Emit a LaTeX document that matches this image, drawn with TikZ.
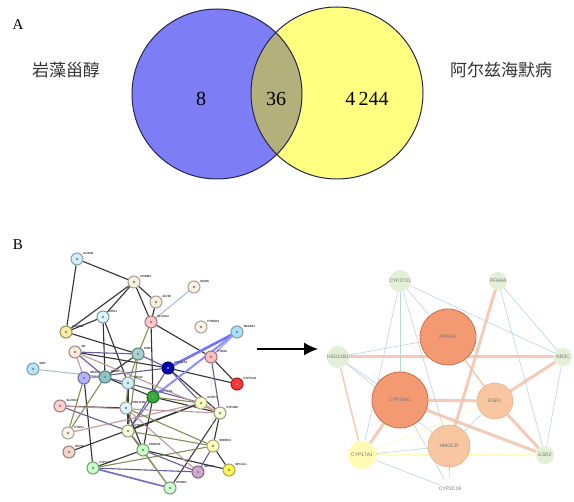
\documentclass[tikz,border=0pt]{standalone}
\usepackage{fontspec}
\setmainfont{Liberation Serif}
\newfontfamily\cjk{Noto Sans CJK SC}
\newfontfamily\lsans{Liberation Sans}
\usetikzlibrary{arrows.meta,backgrounds}
\definecolor{vblue}{HTML}{7D7DF6}
\definecolor{vyel}{HTML}{FFFF80}
\definecolor{volive}{HTML}{B3B07C}
\definecolor{vline}{HTML}{26264A}
\definecolor{ekb}{HTML}{333333}
\definecolor{ekp}{HTML}{6A5A9A}
\definecolor{ekr}{HTML}{C09A9A}
\definecolor{eko}{HTML}{7F8F58}
\definecolor{ekg}{HTML}{A0BCC8}
\definecolor{salm}{HTML}{F2C2AC}
\definecolor{thinb}{HTML}{BCD4E4}
\definecolor{gl}{HTML}{E4EFD8}
\definecolor{bigf}{HTML}{F39A72}
\definecolor{bigd}{HTML}{C8704C}
\definecolor{midf}{HTML}{F8C6A0}
\definecolor{midd}{HTML}{E6A882}
\tikzset{
  gn/.style={circle,minimum size=12pt,inner sep=0pt,line width=1pt,
    path picture={\fill[black!45] (path picture bounding box.center) circle (1.4pt);}},
  lbl/.style={font=\lsans\bfseries\fontsize{3}{3}\selectfont,inner sep=0.5pt,text=black!80},
  eb/.style={ekb,line width=1.1pt},
  ep/.style={ekp,line width=1.1pt},
  er/.style={ekr,line width=1.1pt},
  eo/.style={eko,line width=1.1pt},
  eg/.style={ekg,line width=0.9pt},
  rn/.style={circle,inner sep=0pt,font=\lsans\fontsize{5}{5}\selectfont,text=black!55},
  smallg/.style={rn,fill=gl,minimum size=18pt},
  bign/.style={rn,fill=bigf,draw=bigd,line width=0.8pt,minimum size=56pt},
  midn/.style={rn,fill=midf,draw=midd,line width=0.5pt},
  sth/.style={salm,line width=3pt,opacity=0.85},
  stn/.style={salm,line width=1.5pt,opacity=0.85},
  tb/.style={thinb,line width=0.6pt},
}
\newcommand{\gnd}[5]{\colorlet{nfc}{#4}\colorlet{ndc}{nfc!60!black}%
  \node[gn,fill=nfc,draw=ndc] (#1) at (#2,#3) {};
  \node[lbl,anchor=south west] at ([xshift=1pt,yshift=-1pt]#1.north east) {#5};}
\begin{document}
\begin{tikzpicture}[x=1pt,y=-1pt]
\useasboundingbox (0,0) rectangle (574,502);
\begin{pgfonlayer}{background}
\fill[white] (0,0) rectangle (574,502);
\end{pgfonlayer}
% ---------- A: Venn ----------
\node[font=\fontsize{15}{15}\selectfont] (la) at (18,25) {A};
\coordinate (cb) at (217,94);
\coordinate (cy) at (337,93);
\fill[vblue] (cb) circle (85);
\fill[vyel] (cy) circle (86);
\begin{scope}
  \clip (cb) circle (85);
  \fill[volive] (cy) circle (86);
\end{scope}
\draw[vline,line width=1pt] (cb) circle (85);
\draw[vline,line width=1pt] (cy) circle (86);
\node[font=\cjk\fontsize{17}{17}\selectfont,text=black!80] (t1) at (66,70) {岩藻甾醇};
\node[font=\cjk\fontsize{17}{17}\selectfont,text=black!80] (t2) at (501,70) {阿尔兹海默病};
\node[font=\fontsize{20}{20}\selectfont] (n8) at (201,99) {8};
\node[font=\fontsize{20}{20}\selectfont] (n36) at (276,99) {36};
\node[font=\fontsize{20}{20}\selectfont] (n4244) at (367,99) {4\,244};
% ---------- B ----------
\node[font=\fontsize{15}{15}\selectfont] (lb) at (18,245) {B};
% left network nodes
\gnd{a1}{77}{259}{cyan!20}{GUSH1}
\gnd{a2}{134}{282}{yellow!25!brown!15!white}{CHRM2}
\gnd{a3}{194}{287}{yellow!20!brown!12!white}{NQRA}
\gnd{a4}{156}{302}{yellow!25!brown!18!white}{ACHE}
\gnd{a5}{103}{317}{blue!15!cyan!15!white}{CES1}
\gnd{a6}{151}{322}{red!22!white}{SLC6A4}
\gnd{a7}{66}{332}{brown!35!yellow!40!white}{SLC6A2}
\gnd{a8}{201}{327}{yellow!20!brown!12!white}{PTGER2}
\gnd{a9}{237}{332}{cyan!35!white}{TBXAS1}
\gnd{a10}{75}{352}{red!20!orange!15!white}{AR}
\gnd{a11}{138}{354}{teal!35!white}{ESR1}
\gnd{a12}{211}{357}{red!25!white}{PTGS2}
\gnd{a13}{33}{369}{cyan!30!white}{SHH}
\gnd{a14}{168}{368}{blue!70!black}{CYP11A1}
\gnd{a15}{237}{384}{red!80!white}{CYP51A1}
\gnd{a16}{84}{378}{blue!30!white}{NR3C1}
\gnd{a17}{105}{377}{teal!45!white}{ESR2}
\gnd{a18}{128}{383}{cyan!18!white}{NR1I2}
\gnd{a19}{153}{397}{green!60!black!80}{CYP17A1}
\gnd{a20}{201}{403}{yellow!25!white}{GSTP1}
\gnd{a21}{220}{413}{green!20!yellow!15!white}{CYP2B6}
\gnd{a22}{60}{406}{red!18!white}{SLC6A3}
\gnd{a23}{126}{408}{cyan!12!white}{HSD11B1}
\gnd{a24}{128}{431}{green!15!yellow!15!white}{CYP2C19}
\gnd{a25}{68}{433}{yellow!20!brown!12!white}{PTGS1}
\gnd{a26}{69}{452}{red!35!brown!25!white}{BCHE}
\gnd{a27}{143}{450}{green!22!white}{HMGCR}
\gnd{a28}{213}{446}{yellow!30!white}{SREBF2}
\gnd{a29}{229}{470}{yellow!70!white}{NPC1L1}
\gnd{a30}{93}{468}{green!22!white}{CYP3A4}
\gnd{a31}{198}{472}{violet!35!white}{NR1H3}
\gnd{a32}{170}{488}{green!18!white}{PPARG}
\begin{pgfonlayer}{background}
\foreach \u/\v in {a1/a2,a1/a7,a2/a4,a2/a6,a2/a7,a2/a5,a4/a6,a5/a7,a6/a12,a7/a11,a10/a14,a11/a17,a14/a21,a14/a15,a17/a19,a19/a27,a20/a24,a21/a28,a24/a27,a27/a29,a28/a29,a30/a27,a22/a23,a23/a27,a16/a30,a19/a21,a12/a15,a5/a18,a18/a24,a21/a32,a26/a20,a5/a17,a6/a19}
  \draw[eb] (\u) -- (\v);
\foreach \u/\v in {a10/a11,a10/a17,a16/a14,a14/a20,a17/a20,a31/a27,a30/a31,a28/a31,a22/a24,a11/a14,a19/a24,a14/a24,a12/a21}
  \draw[ep] (\u) -- (\v);
\foreach \u/\v in {a10/a16,a16/a17,a20/a21,a25/a20,a23/a31,a27/a32,a10/a21,a22/a21}
  \draw[er] (\u) -- (\v);
\foreach \u/\v in {a11/a18,a18/a23,a24/a28,a23/a28,a19/a20,a17/a25,a11/a24,a24/a32,a6/a11,a16/a25,a30/a28}
  \draw[eo] (\u) -- (\v);
\draw[eg] (a3) -- (a6);
\draw[eg] (a13) -- (a17);
\draw[yellow!40!gray!40] (a12) -- (a28);
\draw[blue!45!gray!80,line width=1.6pt] (a30) -- (a32);
\draw[blue!55!white,line width=2.6pt] (a9) -- (a14);
\draw[blue!45!white,line width=2pt] (a9) -- (a19);
\draw[blue!35!white,line width=1.4pt] (a9) -- (a12);
\end{pgfonlayer}
% arrow
\coordinate (as) at (257,349);
\coordinate (ae) at (318,349);
\draw[line width=1.3pt,-{Latex[length=14pt,width=13pt]}] (as) -- (ae);
% right network
\node[smallg] (r1) at (400,281) {CYP2731};
\node[smallg] (r2) at (498,281) {PFARA};
\node[smallg] (r3) at (338,357) {HSD11B1};
\node[smallg] (r4) at (563,357) {NR3C};
\node[smallg] (r5) at (545,455) {ESR2};
\node[rn,minimum size=18pt] (r6) at (450,489) {CYP2C19};
\node[rn,fill=yellow!30!white,minimum size=28pt] (r7) at (362,455) {CYP17A1};
\node[bign] (r8) at (448,337) {PPARG};
\node[bign] (r9) at (400,400) {CYP19A1};
\node[midn,minimum size=36pt] (r10) at (495,401) {ESR1};
\node[midn,minimum size=42pt] (r11) at (449,446) {HMGCR};
\begin{pgfonlayer}{background}
\foreach \u/\v in {r1/r4,r1/r7,r1/r9,r1/r11,r1/r8,r2/r4,r2/r5,r3/r8,r3/r9,r4/r5,r7/r11,r9/r6,r11/r6,r10/r11,r7/r6,r3/r11}
  \draw[tb] (\u) -- (\v);
\draw[yellow!25!white,line width=1.5pt] (r7) -- (r5);
\draw[yellow!20!white,line width=1pt] (r7) -- (r10);
\draw[sth] (r3) -- (r4);
\draw[sth] (r2) -- (r11);
\draw[sth] (r9) -- (r10);
\draw[sth] (r9) -- (r5);
\draw[sth] (r10) -- (r5);
\draw[sth] (r10) -- (r4);
\draw[sth] (r9) -- (r7);
\draw[stn] (r3) -- (r7);
\draw[stn] (r8) -- (r10);
\end{pgfonlayer}
\end{tikzpicture}
\end{document}
